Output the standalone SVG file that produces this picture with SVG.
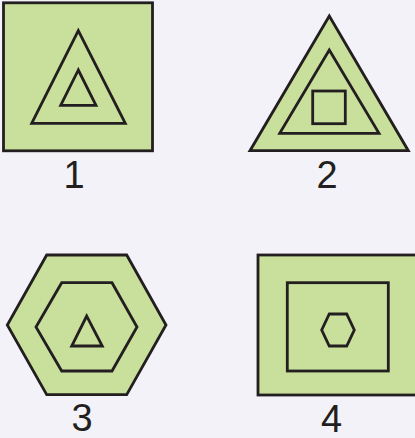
<svg xmlns="http://www.w3.org/2000/svg" width="415" height="438" viewBox="0 0 415 438">
<style>
.bg{fill:#f2f2f8}
.s{fill:#c9e09c;stroke:#231f20;stroke-width:2.8;stroke-linejoin:miter}
.i{fill:none;stroke:#231f20;stroke-width:2.8}
.lbl{font-family:"Liberation Sans",Arial,sans-serif;font-size:38px;fill:#231f20;text-anchor:middle}
</style>
<rect class="bg" x="0" y="0" width="415" height="438"/>
<g id="figure1">
<rect class="s" x="3.5" y="2.8" width="149" height="148"/>
<polygon class="i" points="78.3,30.7 31.7,123.3 125.3,123.3"/>
<polygon class="i" points="78.3,70 60.7,105.3 96,105.3"/>
<text class="lbl" x="74" y="187.5">1</text>
</g>
<g id="figure2">
<polygon class="s" points="329.3,16 250,150.7 408.3,150.7"/>
<polygon class="i" points="329.3,50 279.7,133.3 379,133.3"/>
<rect class="i" x="312.7" y="91" width="32.6" height="32.7"/>
<text class="lbl" x="327" y="187.5">2</text>
</g>
<g id="figure3">
<polygon class="s" points="46.7,255 126.7,255 166,325 126.7,394.7 46.7,394.7 7.3,325"/>
<polygon class="i" points="61.7,282.7 112,282.7 137,327 112,371 61.7,371 36,327"/>
<polygon class="i" points="86.7,316 71.7,346 102.3,346"/>
<text class="lbl" x="82" y="431">3</text>
</g>
<g id="figure4">
<rect class="s" x="258" y="255" width="160" height="140"/>
<rect class="i" x="287.3" y="282.7" width="101" height="88.3"/>
<polygon class="i" points="329.3,314 346.7,314 354.3,330 346.7,346 329.3,346 321.7,330"/>
<text class="lbl" x="331.5" y="431.5">4</text>
</g>
<g id="connectors"/>
</svg>
